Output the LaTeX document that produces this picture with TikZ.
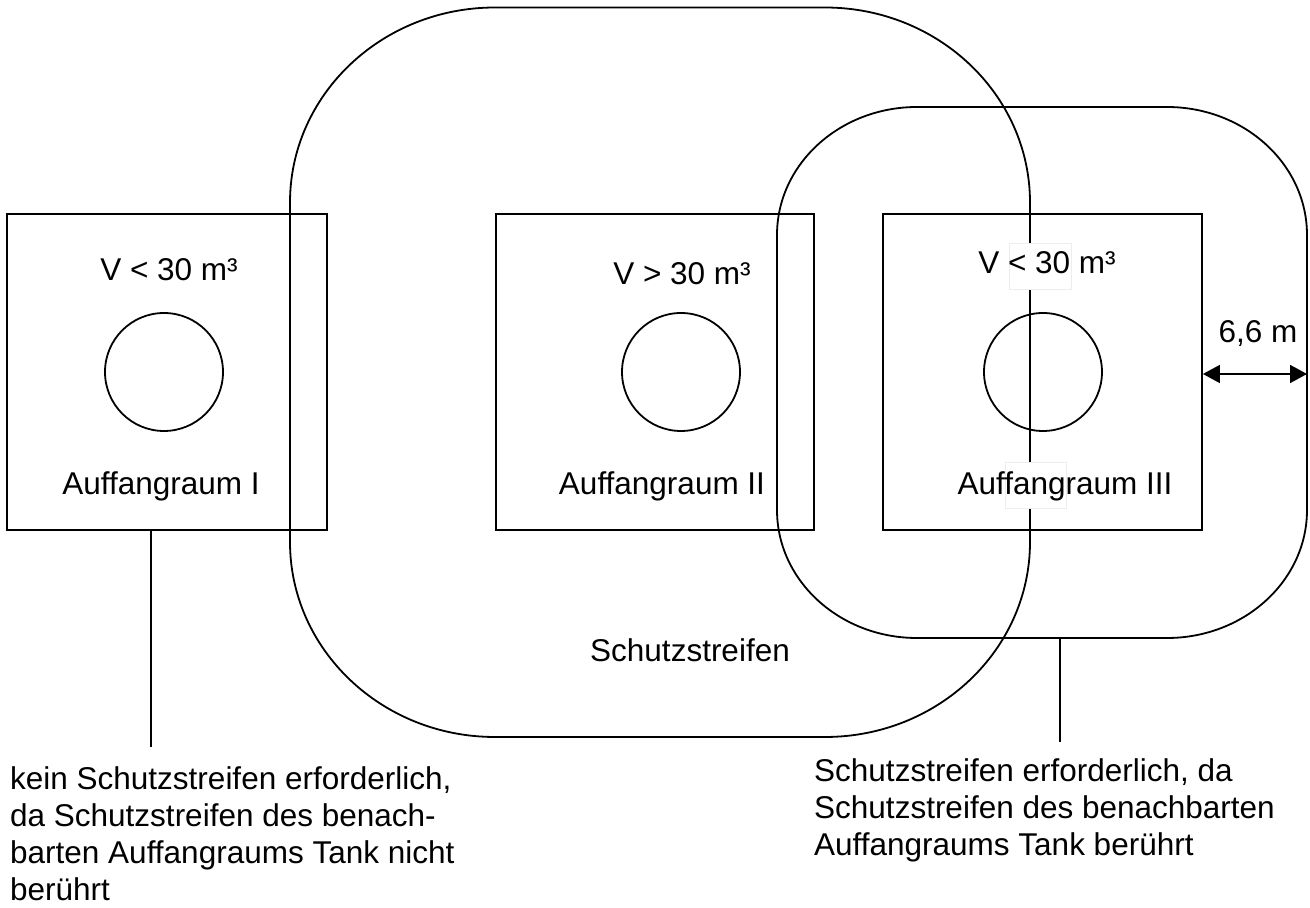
\documentclass[tikz,border=0pt]{standalone}
\usepackage{fontspec}
\setmainfont{Liberation Sans}
\usetikzlibrary{arrows.meta}
\begin{document}
\begin{tikzpicture}[x=1pt,y=1pt,
  ln/.style={line width=1.8pt, draw=black},
  tank/.style={ln, rectangle, inner sep=0pt},
  vessel/.style={ln, circle, inner sep=0pt, minimum size=118pt},
  lbl/.style={inner sep=0pt, anchor=base, font=\fontsize{31.5pt}{37pt}\selectfont},
  note/.style={inner sep=0pt, anchor=base west, font=\fontsize{31.5pt}{37pt}\selectfont},
  patch/.style={fill=white, draw=black!7, line width=0.6pt},
  dim/.style={line width=1.8pt, {Triangle[length=17pt,width=18pt]}-{Triangle[length=17pt,width=18pt]}}]
\useasboundingbox (0,0) rectangle (1310,908);

% protection strips (Schutzstreifen)
\draw[ln] (495,900.5) -- (825,900.5)
  arc[start angle=90,end angle=0,x radius=205,y radius=195] -- (1030,366)
  arc[start angle=0,end angle=-90,x radius=205,y radius=195] -- (495,171)
  arc[start angle=270,end angle=180,x radius=205,y radius=195] -- (290,705.5)
  arc[start angle=180,end angle=90,x radius=205,y radius=195] -- cycle;
\draw[ln] (917,801) -- (1167,801)
  arc[start angle=90,end angle=0,x radius=140,y radius=128] -- (1307,398)
  arc[start angle=0,end angle=-90,x radius=140,y radius=128] -- (917,270)
  arc[start angle=270,end angle=180,x radius=140,y radius=128] -- (777,673)
  arc[start angle=180,end angle=90,x radius=140,y radius=128] -- cycle;

% catch basins
\node[tank, minimum width=320pt, minimum height=316pt] (b1) at (167,536) {};
\node[tank, minimum width=318pt, minimum height=316pt] (b2) at (655,536) {};
\node[tank, minimum width=319pt, minimum height=316pt] (b3) at (1042.5,536) {};

% tanks
\node[vessel] (t1) at (164,536) {};
\node[vessel] (t2) at (681,536) {};
\node[vessel] (t3) at (1043,536) {};

% white patches behind text in basin III
\path[patch] (1009,619) rectangle (1071,665);
\path[patch] (1005,400) rectangle (1066,446);

% labels
\node[lbl] (v1) at (169,627) {V < 30 m³};
\node[lbl] (v2) at (682,623) {V > 30 m³};
\node[lbl] (v3) at (1047,634) {V < 30 m³};
\node[lbl] (a1) at (161,413) {Auffangraum I};
\node[lbl] (a2) at (662,413) {Auffangraum II};
\node[lbl] (a3) at (1065,413) {Auffangraum III};
\node[lbl] (s) at (690,246) {Schutzstreifen};
\node[lbl] (d) at (1258,565) {6,6 m};

% dimension arrow
\coordinate (r3) at (1307,534);
\draw[dim] (b3.east |- r3) -- (r3);

% leader lines
\coordinate (c1a) at (151,378);
\coordinate (c1b) at (151,161);
\coordinate (c2a) at (1060,270);
\coordinate (c2b) at (1060,166);
\draw[ln] (c1a) -- (c1b);
\draw[ln] (c2a) -- (c2b);

% notes
\node[note] (n1) at (10,118) {\vtop{\hbox{kein Schutzstreifen erforderlich,}\hbox{da Schutzstreifen des benach-}\hbox{barten Auffangraums Tank nicht}\hbox{berührt}}};
\node[note] (n2) at (814,126) {\vtop{\hbox{Schutzstreifen erforderlich, da}\hbox{Schutzstreifen des benachbarten}\hbox{Auffangraums Tank berührt}}};
\end{tikzpicture}
\end{document}
